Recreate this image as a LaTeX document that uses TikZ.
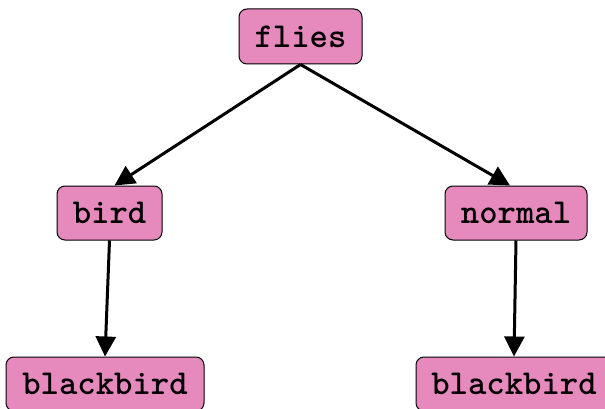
\documentclass[tikz,border=0pt]{standalone}
\usetikzlibrary{arrows.meta}
\definecolor{boxpink}{RGB}{230,138,190}
\tikzset{
  treebox/.style={draw=black, line width=1pt, fill=boxpink, rounded corners=8pt,
    inner sep=0pt, minimum height=54pt, font=\fontsize{35}{35}\selectfont\ttfamily\bfseries},
  treeedge/.style={line width=3pt, -{Triangle[length=20pt,width=20pt]}}
}
\begin{document}
\begin{tikzpicture}[x=1pt,y=-1pt]
  \useasboundingbox (0,0) rectangle (605,409);
  \clip (0,0) rectangle (605,409);
  \node[treebox, minimum width=123pt, minimum height=55pt] (flies) at (300.5,36.5) {flies};
  \node[treebox, minimum width=105pt] (bird) at (109.5,213) {bird};
  \node[treebox, minimum width=142pt] (normal) at (516,213) {normal};
  \node[treebox, minimum width=198pt] (bbleft) at (105,384) {blackbird};
  \node[treebox, minimum width=196pt] (bbright) at (514,384) {blackbird};
  \draw[treeedge] (flies.south) -- ([xshift=5pt]bird.north);
  \draw[treeedge] (flies.south) -- ([xshift=-6pt]normal.north);
  \draw[treeedge] (bird.south) -- (bbleft.north);
  \draw[treeedge] (normal.south) -- (bbright.north);
\end{tikzpicture}
\end{document}
